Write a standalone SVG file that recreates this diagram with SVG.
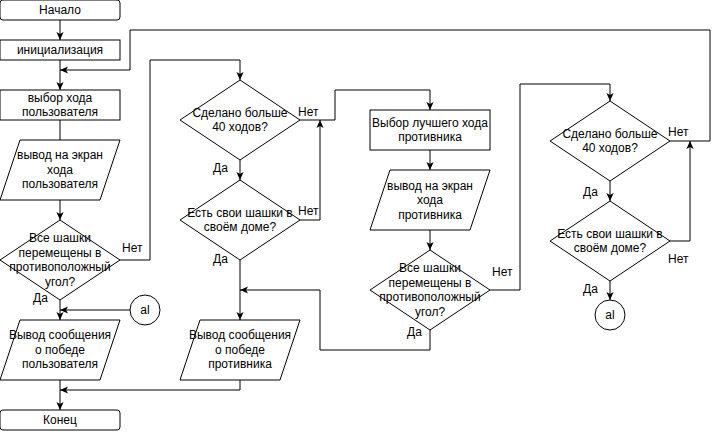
<svg xmlns="http://www.w3.org/2000/svg" width="719" height="432" viewBox="0 0 719 432">
  <style>
    .shape { fill: #ffffff; stroke: #000000; stroke-width: 1; }
    .edge { fill: none; stroke: #000000; stroke-width: 1; }
    .arrow { marker-end: url(#arrowhead); }
    text { font-family: "Liberation Sans", Arial, sans-serif; font-size: 12px; fill: #000000; }
    .c { text-anchor: middle; }
  </style>
  <defs>
    <marker id="arrowhead" viewBox="0 0 10 10" refX="10" refY="5" markerWidth="8" markerHeight="8" markerUnits="userSpaceOnUse" orient="auto">
      <path d="M0,0.5 L10,5 L0,9.5 L2.5,5 Z" fill="#000000" stroke="none"/>
    </marker>
  </defs>

  <rect width="719" height="432" fill="#ffffff"/>

  <g id="connectors">
    <path class="edge arrow" d="M60,20 V40"/>
    <path class="edge arrow" d="M60,60 V90"/>
    <path class="edge arrow" d="M670,141 H710 V30 H130 V70 H60"/>
    <path class="edge" d="M60,120 V140"/>
    <path class="edge arrow" d="M60,200 V220"/>
    <path class="edge arrow" d="M120,260 H150 V60 H240 V80"/>
    <path class="edge arrow" d="M60,300 V320"/>
    <path class="edge arrow" d="M130,310 H60"/>
    <path class="edge arrow" d="M60,380 V410"/>
    <path class="edge arrow" d="M240,380 V390 H60"/>
    <path class="edge arrow" d="M240,160 V180"/>
    <path class="edge arrow" d="M240,260 V320"/>
    <path class="edge arrow" d="M430,330 V350 H320 V290 H240"/>
    <path class="edge arrow" d="M300,120 H335 V90 H430 V110"/>
    <path class="edge arrow" d="M300,220 H320 V120"/>
    <path class="edge arrow" d="M430,150 V170"/>
    <path class="edge arrow" d="M430,230 V250"/>
    <path class="edge arrow" d="M490,290 H520 V84 H610 V101"/>
    <path class="edge arrow" d="M610,181 V201"/>
    <path class="edge arrow" d="M670,241 H690 V141"/>
    <path class="edge arrow" d="M610,281 V300"/>
  </g>

  <g id="start">
    <rect class="shape" x="0" y="0" width="120" height="20" rx="3" ry="3"/>
    <text class="c" x="60" y="14">Начало</text>
  </g>

  <g id="init">
    <rect class="shape" x="0" y="40" width="120" height="20"/>
    <text class="c" x="60" y="54">инициализация</text>
  </g>

  <g id="user-move">
    <rect class="shape" x="0" y="90" width="120" height="30"/>
    <text class="c" x="60" y="102">выбор хода</text>
    <text class="c" x="60" y="116">пользователя</text>
  </g>

  <g id="show-user-move">
    <polygon class="shape" points="20,140 120,140 100,200 0,200"/>
    <text class="c" x="60" y="159">вывод на экран</text>
    <text class="c" x="60" y="174">хода</text>
    <text class="c" x="60" y="188">пользователя</text>
  </g>

  <g id="user-all-moved">
    <polygon class="shape" points="60,220 120,260 60,300 0,260"/>
    <text class="c" x="60" y="242">Все шашки</text>
    <text class="c" x="60" y="257">перемещены в</text>
    <text class="c" x="60" y="271">противоположный</text>
    <text class="c" x="60" y="286">угол?</text>
  </g>

  <g id="user-win">
    <polygon class="shape" points="20,320 120,320 100,380 0,380"/>
    <text class="c" x="60" y="339">Вывод сообщения</text>
    <text class="c" x="60" y="354">о победе</text>
    <text class="c" x="60" y="368">пользователя</text>
  </g>

  <g id="end">
    <rect class="shape" x="0" y="410" width="120" height="20" rx="3" ry="3"/>
    <text class="c" x="60" y="424">Конец</text>
  </g>

  <g id="connector-al-left">
    <circle class="shape" cx="145" cy="310" r="15"/>
    <text class="c" x="145" y="314">al</text>
  </g>

  <g id="moves-check-1">
    <polygon class="shape" points="240,80 300,120 240,160 180,120"/>
    <text class="c" x="240" y="117">Сделано больше</text>
    <text class="c" x="240" y="131">40 ходов?</text>
  </g>

  <g id="home-check-1">
    <polygon class="shape" points="240,180 300,220 240,260 180,220"/>
    <text class="c" x="240" y="217">Есть свои шашки в</text>
    <text class="c" x="240" y="231">своём доме?</text>
  </g>

  <g id="opponent-win">
    <polygon class="shape" points="200,320 300,320 280,380 180,380"/>
    <text class="c" x="240" y="339">Вывод сообщения</text>
    <text class="c" x="240" y="354">о победе</text>
    <text class="c" x="240" y="368">противника</text>
  </g>

  <g id="opponent-move">
    <rect class="shape" x="370" y="110" width="120" height="40"/>
    <text class="c" x="430" y="127">Выбор лучшего хода</text>
    <text class="c" x="430" y="141">противника</text>
  </g>

  <g id="show-opponent-move">
    <polygon class="shape" points="390,170 490,170 470,230 370,230"/>
    <text class="c" x="430" y="190">вывод на экран</text>
    <text class="c" x="430" y="204">хода</text>
    <text class="c" x="430" y="219">противника</text>
  </g>

  <g id="opponent-all-moved">
    <polygon class="shape" points="430,250 490,290 430,330 370,290"/>
    <text class="c" x="430" y="272">Все шашки</text>
    <text class="c" x="430" y="287">перемещены в</text>
    <text class="c" x="430" y="301">противоположный</text>
    <text class="c" x="430" y="316">угол?</text>
  </g>

  <g id="moves-check-2">
    <polygon class="shape" points="610,101 670,141 610,181 550,141"/>
    <text class="c" x="610" y="138">Сделано больше</text>
    <text class="c" x="610" y="152">40 ходов?</text>
  </g>

  <g id="home-check-2">
    <polygon class="shape" points="610,201 670,241 610,281 550,241"/>
    <text class="c" x="610" y="238">Есть свои шашки в</text>
    <text class="c" x="610" y="252">своём доме?</text>
  </g>

  <g id="connector-al-right">
    <circle class="shape" cx="610" cy="315" r="15"/>
    <text class="c" x="610" y="319">al</text>
  </g>

  <g id="edge-labels">
    <text x="122" y="252">Нет</text>
    <text x="33" y="302">Да</text>
    <text x="298" y="116">Нет</text>
    <text x="213" y="172">Да</text>
    <text x="298" y="215">Нет</text>
    <text x="213" y="263">Да</text>
    <text x="492" y="276">Нет</text>
    <text x="407" y="336">Да</text>
    <text x="668" y="136">Нет</text>
    <text x="583" y="196">Да</text>
    <text x="668" y="263">Нет</text>
    <text x="583" y="293">Да</text>
  </g>
</svg>
